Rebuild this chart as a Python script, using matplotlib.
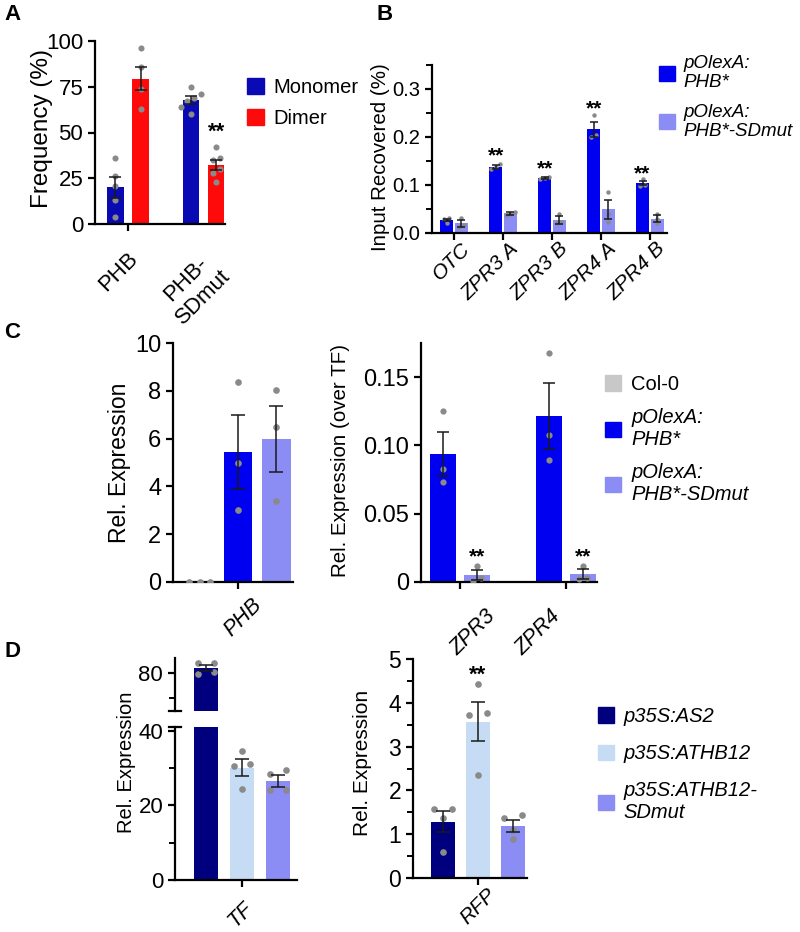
import numpy as np
import matplotlib
matplotlib.use('Agg')
import matplotlib.pyplot as plt
from matplotlib.patches import Patch
from matplotlib.transforms import ScaledTranslation

plt.rcParams['font.family'] = ['Liberation Sans', 'DejaVu Sans']
plt.rcParams['axes.linewidth'] = 1.6
plt.rcParams['xtick.major.width'] = 1.6
plt.rcParams['ytick.major.width'] = 1.6
plt.rcParams['ytick.minor.width'] = 1.4
plt.rcParams['xtick.major.size'] = 5
plt.rcParams['ytick.major.size'] = 5
plt.rcParams['ytick.minor.size'] = 4

# ---- data ----
# A: dimerisation frequency
a_groups = ['PHB', 'PHB-\nSDmut']
a_series = ['Monomer', 'Dimer']
a_colors = ['#0a0ab4', '#ff0a0a']
a_mean = [[20, 67.7], [79.5, 32.3]]
a_sem = [[5.8, 2.2], [6.2, 2.7]]
a_pts = [[[36, 26, 21, 13, 4], [75, 71, 69, 67, 64, 60]],
         [[96, 86, 74, 63], [42, 36, 35, 30, 28, 23]]]
a_stars = [None, 50]   # dimer series

# B: ChIP
b_groups = ['OTC', 'ZPR3 A', 'ZPR3 B', 'ZPR4 A', 'ZPR4 B']
b_series = ['pOlexA:\nPHB*', 'pOlexA:\nPHB*-SDmut']
b_colors = ['#0000f0', '#8c8cf5']
b_mean = [[0.027, 0.137, 0.114, 0.216, 0.104],
          [0.020, 0.041, 0.027, 0.049, 0.030]]
b_sem = [[0.003, 0.004, 0.002, 0.015, 0.005],
         [0.008, 0.003, 0.008, 0.019, 0.007]]
b_pts = [[[0.031, 0.030, 0.021], [0.143, 0.137, 0.133], [0.116, 0.114, 0.112],
          [0.245, 0.205, 0.200], [0.113, 0.100, 0.098]],
         [[0.032, 0.016, 0.012], [0.044, 0.040, 0.038], [0.040, 0.022, 0.020],
          [0.085, 0.040, 0.022], [0.040, 0.030, 0.020]]]
b_stars = [0.16, 0.134, 0.259, 0.123]
b_star_idx = [1, 2, 3, 4]

# C left: PHB expression
cl_series = ['Col-0', 'pOlexA:\nPHB*', 'pOlexA:\nPHB*-SDmut']
c_colors = ['#c8c8c8', '#0000f0', '#8c8cf5']
cl_mean = [0, 5.45, 5.98]
cl_sem = [0, 1.55, 1.37]
cl_pts = [[0, 0, 0], [8.35, 5.0, 3.0], [8.05, 6.5, 3.4]]

# C right: ZPR expression over TF
cr_groups = ['ZPR3', 'ZPR4']
cr_mean = [[0.0937, 0.1217], [0.0053, 0.0057]]
cr_sem = [[0.016, 0.024], [0.0035, 0.0035]]
cr_pts = [[[0.125, 0.083, 0.073], [0.168, 0.108, 0.089]],
          [[0.012, 0.003, 0.001], [0.012, 0.003, 0.002]]]
cr_stars = [0.0185, 0.0185]

# D: TF / RFP expression
d_series = ['p35S:AS2', 'p35S:ATHB12', 'p35S:ATHB12-\nSDmut']
d_colors = ['#00007f', '#c6dcf5', '#8c8cf5']
dl_mean = [82.0, 30.1, 26.5]
dl_sem = [1.2, 2.3, 1.7]
dl_pts = [[84, 84, 79.5, 80.5], [34.5, 31, 30.5, 24.5], [29.5, 28.5, 24, 24]]
dr_mean = [1.28, 3.57, 1.19]
dr_sem = [0.24, 0.44, 0.13]
dr_pts = [[1.58, 1.58, 1.38, 0.6], [4.43, 3.77, 3.73, 2.35], [1.43, 1.37, 1.1, 0.9]]
dr_star = 4.62

W, H = 800, 932
fig = plt.figure(figsize=(W / 100, H / 100), dpi=100)


def axes_px(x0, y0, x1, y1):
    return fig.add_axes([x0 / W, 1 - y1 / H, (x1 - x0) / W, (y1 - y0) / H])


def swarm(values, thr, step):
    # spread points that sit at nearly the same height
    v = np.asarray(values, dtype=float)
    order = np.argsort(v)
    offs = np.zeros(len(v))
    groups, cur = [], [order[0]]
    for i in order[1:]:
        if abs(v[i] - v[cur[-1]]) < thr:
            cur.append(i)
        else:
            groups.append(cur)
            cur = [i]
    groups.append(cur)
    for g in groups:
        k = len(g)
        for j, i in enumerate(g):
            offs[i] = (j - (k - 1) / 2) * step
    return offs


def draw_bars(ax, x, means, sems, pts, color, width, thr, step, ms=4.5, cap=4):
    ax.bar(x, means, width, color=color, zorder=1)
    for xi, m, s, p in zip(x, means, sems, pts):
        offs = swarm(p, thr, step)
        ax.plot(xi + offs, p, 'o', color='#8a8a8a', ms=ms, mec='none', zorder=3)
        if s > 0:
            ax.errorbar(xi, m, yerr=s, color='#1a1a1a', capsize=cap, lw=1.1,
                        capthick=1.1, zorder=4)


def xlabels(ax, xs, labels, shifts, size, style='normal'):
    ax.set_xticks(xs)
    ax.set_xticklabels([])
    for x, lab, (dx, dy) in zip(xs, labels, shifts):
        tr = ax.get_xaxis_transform() + ScaledTranslation(dx / 100, -dy / 100,
                                                          fig.dpi_scale_trans)
        ax.text(x, 0, lab, rotation=45, ha='right', va='top', rotation_mode='anchor',
                transform=tr, fontsize=size, style=style, multialignment='center')


def style(ax):
    ax.spines['top'].set_visible(False)
    ax.spines['right'].set_visible(False)


# ---- A ----
axA = axes_px(95, 41, 225, 224)
xg = np.arange(len(a_groups))
for k in range(2):
    draw_bars(axA, xg + (k - 0.5) * 0.335, a_mean[k], a_sem[k], a_pts[k],
              a_colors[k], 0.22, 3.5, 0.09, ms=4.4)
axA.set_xlim(-0.437, 1.285)
axA.set_ylim(0, 100)
axA.set_yticks([0, 25, 50, 75, 100])
xlabels(axA, xg, a_groups, [(-1, 24), (-1, 24)], 16)
axA.xaxis.get_major_ticks()[1].tick1line.set_visible(False)
axA.tick_params(axis='y', labelsize=16)
axA.set_ylabel('Frequency (%)', fontsize=17.5)
axA.yaxis.set_label_coords(-0.32, 0.52)
axA.text(1 + 0.168, a_stars[1], '**', ha='center', va='center', fontsize=16,
         fontweight='bold')
style(axA)
fig.legend(handles=[Patch(color=c, label=l) for c, l in zip(a_colors, a_series)],
           loc='upper left', bbox_to_anchor=(229 / W, 1 - 60 / H), frameon=False,
           handlelength=0.85, handleheight=0.85, handletextpad=0.45,
           labelspacing=0.6, prop={'size': 14.5})

# ---- B ----
axB = axes_px(432, 65, 667, 233)
xb = np.arange(len(b_groups))
for k in range(2):
    draw_bars(axB, xb + (k - 0.5) * 0.3, b_mean[k], b_sem[k], b_pts[k],
              b_colors[k], 0.27, 0.008, 0.09, ms=3.2, cap=3)
for i, yv in zip(b_star_idx, b_stars):
    axB.text(i - 0.15, yv, '**', ha='center', va='center', fontsize=15,
             fontweight='bold')
axB.set_xlim(-0.449, 4.35)
axB.set_ylim(0, 0.35)
axB.set_yticks([0, 0.1, 0.2, 0.3])
axB.set_yticks([0.05, 0.15, 0.25, 0.35], minor=True)
axB.yaxis.set_major_formatter(matplotlib.ticker.FormatStrFormatter('%.1f'))
xlabels(axB, xb, b_groups, [(6, 6)] * 5, 15, 'italic')
axB.tick_params(axis='y', labelsize=14.5)
axB.set_ylabel('Input Recovered (%)', fontsize=14.8)
axB.yaxis.set_label_coords(-0.18, 0.45)
style(axB)
fig.legend(handles=[Patch(color=c, label=l) for c, l in zip(b_colors, b_series)],
           loc='upper left', bbox_to_anchor=(642 / W, 1 - 38 / H), frameon=False,
           handlelength=0.85, handleheight=0.85, handletextpad=0.45,
           labelspacing=0.65, prop={'style': 'italic', 'size': 13.5})

# ---- C left ----
axCL = axes_px(173, 343, 293, 582)
xcl = np.arange(3) - 1
for i in range(3):
    draw_bars(axCL, [xcl[i]], [cl_mean[i]], [cl_sem[i]], [cl_pts[i]],
              c_colors[i], 0.74, 0.3, 0.27, ms=4.8, cap=5)
axCL.set_xlim(-1.69, 1.43)
axCL.set_ylim(0, 10)
axCL.set_yticks([0, 2, 4, 6, 8, 10])
xlabels(axCL, [0], ['PHB'], [(13, 12)], 15.5, 'italic')
axCL.tick_params(axis='y', labelsize=17)
axCL.set_ylabel('Rel. Expression', fontsize=16.5)
axCL.yaxis.set_label_coords(-0.35, 0.5)
style(axCL)

# ---- C right ----
axCR = axes_px(421, 343, 597, 582)
xcr = np.arange(len(cr_groups))
for k in range(2):
    draw_bars(axCR, xcr + (k - 0.5) * 0.32, cr_mean[k], cr_sem[k], cr_pts[k],
              c_colors[k + 1], 0.245, 0.004, 0.07, ms=4.5, cap=4)
for i, yv in enumerate(cr_stars):
    axCR.text(i + 0.16, yv, '**', ha='center', va='center', fontsize=15,
              fontweight='bold')
axCR.set_xlim(-0.368, 1.292)
axCR.set_ylim(0, 0.175)
axCR.set_yticks([0, 0.05, 0.10, 0.15])
axCR.set_yticklabels(['0', '0.05', '0.10', '0.15'])
xlabels(axCR, xcr, cr_groups, [(25, 24), (-16, 24)], 15.5, 'italic')
axCR.tick_params(axis='y', labelsize=17)
axCR.set_ylabel('Rel. Expression (over TF)', fontsize=14.8)
axCR.yaxis.set_label_coords(-0.405, 0.51)
style(axCR)
h = [Patch(color=c_colors[0], label=cl_series[0])]
h += [Patch(color=c, label=l) for c, l in zip(c_colors[1:], cl_series[1:])]
legC = fig.legend(handles=h, loc='upper left', bbox_to_anchor=(587 / W, 1 - 357 / H),
                  frameon=False, handlelength=0.8, handleheight=0.8,
                  handletextpad=0.5, labelspacing=0.7, prop={'size': 14.5})
for t in legC.get_texts()[1:]:
    t.set_style('italic')

# ---- D left (broken axis) ----
axDL = axes_px(175, 727, 297, 880)
axDU = axes_px(175, 658, 297, 711)
xd = np.arange(3) - 1
for ax in (axDL, axDU):
    for i in range(3):
        draw_bars(ax, [xd[i]], [dl_mean[i]], [dl_sem[i]], [dl_pts[i]],
                  d_colors[i], 0.66, 1.8, 0.45, ms=4.8, cap=5)
    ax.set_xlim(-1.85, 1.52)
    ax.tick_params(axis='y', labelsize=16)
    style(ax)
axDL.set_ylim(0, 41)
axDL.set_yticks([0, 20, 40])
axDL.set_yticks([10, 30], minor=True)
axDU.set_ylim(64.8, 86)
axDU.set_yticks([80])
axDU.set_yticks([70], minor=True)
axDU.spines['bottom'].set_visible(False)
axDU.set_xticks([])
for ax, yy in ((axDL, 1), (axDU, 0)):
    ax.plot([-0.05, 0.05], [yy, yy], transform=ax.transAxes, color='black',
            lw=1.6, clip_on=False)
xlabels(axDL, [0], ['TF'], [(0, 18)], 15.5, 'italic')
fig.text(127 / W, 1 - 762 / H, 'Rel. Expression', rotation=90, ha='center',
         va='center', fontsize=14.5)

# ---- D right ----
axDR = axes_px(413, 659, 527, 878)
for i in range(3):
    draw_bars(axDR, [xd[i]], [dr_mean[i]], [dr_sem[i]], [dr_pts[i]],
              d_colors[i], 0.66, 0.08, 0.5, ms=4.8, cap=5)
axDR.text(0, dr_star, '**', ha='center', va='center', fontsize=16,
          fontweight='bold')
axDR.set_xlim(-1.857, 1.4)
axDR.set_ylim(0, 5)
axDR.set_yticks([0, 1, 2, 3, 4, 5])
axDR.set_yticks(np.arange(0.5, 5, 1), minor=True)
xlabels(axDR, [0], ['RFP'], [(8, 7)], 15, 'italic')
axDR.tick_params(axis='y', labelsize=16.5)
axDR.set_ylabel('Rel. Expression', fontsize=15)
axDR.yaxis.set_label_coords(-0.36, 0.525)
style(axDR)
fig.legend(handles=[Patch(color=c, label=l) for c, l in zip(d_colors, d_series)],
           loc='upper left', bbox_to_anchor=(580 / W, 1 - 689 / H), frameon=False,
           handlelength=0.8, handleheight=0.8, handletextpad=0.45,
           labelspacing=0.9, prop={'style': 'italic', 'size': 14.5})

# panel letters
for lab, x, y in (('A', 4, 20), ('B', 377, 20), ('C', 4, 338), ('D', 4, 657)):
    fig.text(x / W, 1 - y / H, lab, fontsize=16, fontweight='bold', ha='left',
             va='baseline')

fig.savefig('out.png', dpi=100)
